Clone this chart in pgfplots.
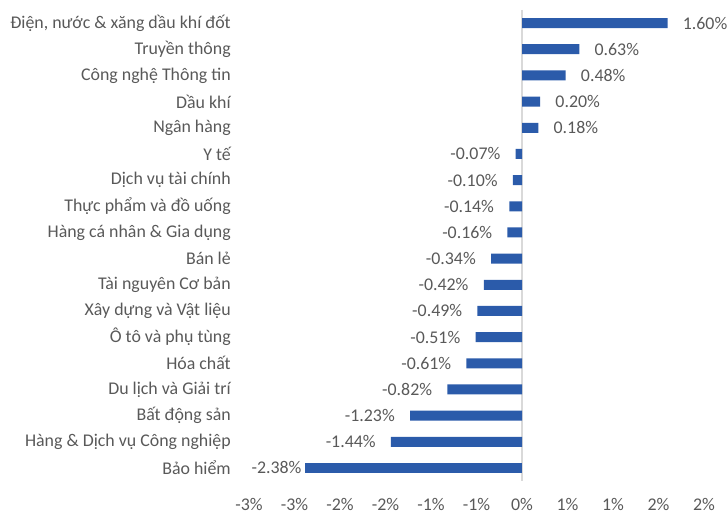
\documentclass[border=0pt]{standalone}
\usepackage{pgfplots}
\usepackage{pgfplotstable}
\pgfplotsset{compat=1.18}
\usepackage{fontspec}
\setmainfont{Carlito}
\definecolor{barblue}{RGB}{43,91,170}
\definecolor{txt}{RGB}{89,89,89}
\definecolor{axgray}{RGB}{217,217,217}
\pgfplotstableread{
y x
0 1.60
1 0.63
2 0.48
3 0.20
4 0.18
5 -0.07
6 -0.10
7 -0.14
8 -0.16
9 -0.34
10 -0.42
11 -0.49
12 -0.51
13 -0.61
14 -0.82
15 -1.23
16 -1.44
}\data
\pgfplotstableread{
y x
17 -2.38
}\datalast
\begin{document}
\begin{tikzpicture}
\begin{axis}[
  width=341.25pt, height=353.25pt, scale only axis,
  xmin=-3, xmax=2, ymin=-0.5, ymax=17.5, y dir=reverse,
  clip=false,
  axis line style={draw=none},
  major tick length=0pt,
  xtick={-3,-2.5,-2,-1.5,-1,-0.5,0,0.5,1,1.5,2},
  xticklabels={-3\%,-3\%,-2\%,-2\%,-1\%,-1\%,0\%,1\%,1\%,2\%,2\%},
  ytick={0,...,17},
  yticklabels={{Điện, nước \& xăng dầu khí đốt},{Truyền thông},{Công nghệ Thông tin},{Dầu khí},{Ngân hàng},{Y tế},{Dịch vụ tài chính},{Thực phẩm và đồ uống},{Hàng cá nhân \& Gia dụng},{Bán lẻ},{Tài nguyên Cơ bản},{Xây dựng và Vật liệu},{Ô tô và phụ tùng},{Hóa chất},{Du lịch và Giải trí},{Bất động sản},{Hàng \& Dịch vụ Công nghiệp},{Bảo hiểm}},
  tick label style={font=\fontsize{13.4}{15}\selectfont, text=txt},
  yticklabel style={inner sep=0pt, anchor=east, xshift=-13.5pt},
  xticklabel style={inner sep=0pt, anchor=base, yshift=-22pt},
  extra x ticks={0}, extra x tick labels={},
  extra x tick style={grid=major, major grid style={axgray, line width=0.9pt}},
  /pgf/number format/assume math mode=true,
  mybar/.style={xbar, bar width=7.5pt, bar shift=0pt, fill=barblue, draw=none,
    point meta=x,
    nodes near coords={\pgfmathprintnumber[fixed,fixed zerofill,precision=2,assume math mode=true]{\pgfplotspointmeta}\%},
    nodes near coords align={horizontal},
    every node near coord/.append style={font=\fontsize{13.4}{15}\selectfont, text=txt, inner xsep=11.25pt, inner ysep=0pt}},
]
\addplot[mybar] table[x=x, y=y] {\data};
\addplot[mybar, every node near coord/.append style={xshift=8.5pt}] table[x=x, y=y] {\datalast};
\end{axis}
\pgfresetboundingbox
\path[use as bounding box] ([xshift=-186.75pt,yshift=-24pt]current axis.south west) rectangle ([xshift=17.25pt,yshift=7.5pt]current axis.north east);
\end{tikzpicture}
\end{document}
